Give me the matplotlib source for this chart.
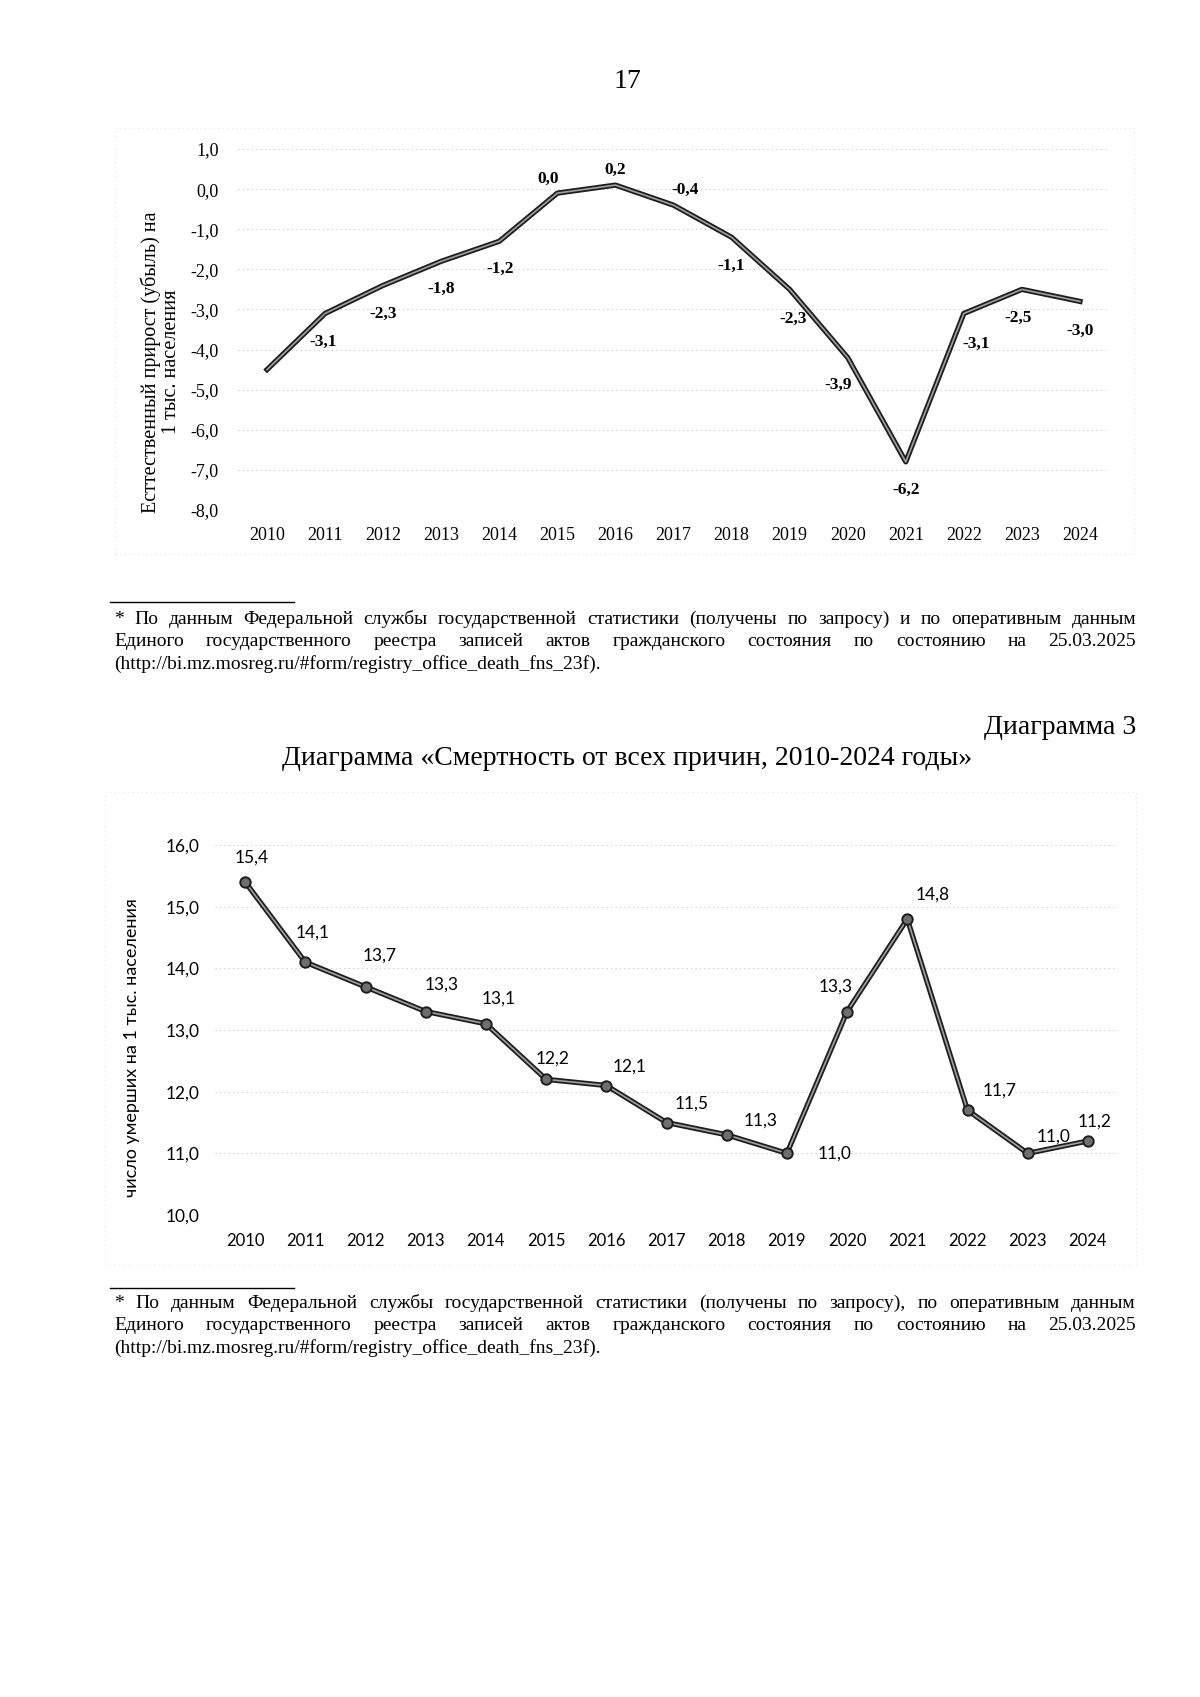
import numpy as np
import matplotlib
matplotlib.use('Agg')
import matplotlib.pyplot as plt
from matplotlib.patches import Rectangle

# ============== data ===================
years = ['2010', '2011', '2012', '2013', '2014', '2015', '2016', '2017',
         '2018', '2019', '2020', '2021', '2022', '2023', '2024']
# natural growth: line as drawn in the source, labels as printed
growth_line = [-4.5, -3.1, -2.4, -1.8, -1.3, -0.1, 0.1, -0.4,
               -1.2, -2.5, -4.2, -6.8, -3.1, -2.5, -2.8]
growth_labels = ['', '-3,1', '-2,3', '-1,8', '-1,2', '0,0', '0,2', '-0,4',
                 '-1,1', '-2,3', '-3,9', '-6,2', '-3,1', '-2,5', '-3,0']
# mortality, per 1000
mortality = [15.4, 14.1, 13.7, 13.3, 13.1, 12.2, 12.1, 11.5,
             11.3, 11.0, 13.3, 14.8, 11.7, 11.0, 11.2]

# label offsets in pixels (dx, dy)
growth_off = [(0, 0), (-2, -28), (0, -28), (0, -28), (1, -28), (-9, 14), (0, 15), (12, 15),
              (0, -29), (3, -29), (-10, -27), (0, -28), (12, -30), (-4, -28), (0, -29)]
mort_off = [(7, 24), (7, 30), (14, 31), (16, 27), (13, 25), (6, 21), (23, 19), (25, 19),
            (34, 14), (48, 0), (-11, 25), (25, 24), (32, 20), (26, 17), (7, 19)]

note1 = ['* По данным Федеральной службы государственной статистики (получены по запросу) и по оперативным данным',
         'Единого государственного реестра записей актов гражданского состояния по состоянию на 25.03.2025',
         '(http://bi.mz.mosreg.ru/#form/registry_office_death_fns_23f).']
note2 = ['* По данным Федеральной службы государственной статистики (получены по запросу), по оперативным данным',
         'Единого государственного реестра записей актов гражданского состояния по состоянию на 25.03.2025',
         '(http://bi.mz.mosreg.ru/#form/registry_office_death_fns_23f).']

SERIF = 'Liberation Serif'
SANS = ['Lato', 'Noto Sans', 'DejaVu Sans']
W, H = 1200, 1697

fig = plt.figure(figsize=(12, 16.97), dpi=100)
fig.patch.set_facecolor('white')


def fx(px):
    return px / W


def fy(py):
    return 1 - py / H


def clean(ax):
    for s in ax.spines.values():
        s.set_visible(False)
    ax.tick_params(length=0)
    ax.grid(axis='y', color='#c4c4c4', linestyle=(0, (1, 3)), linewidth=0.8)
    ax.set_axisbelow(True)


# faint chart borders from the scan
for (x0, y0, x1, y1) in [(115, 128, 1134, 554), (105, 792, 1136, 1265)]:
    fig.patches.append(Rectangle((fx(x0), fy(y1)), fx(x1 - x0), (y1 - y0) / H,
                                 transform=fig.transFigure, fill=False,
                                 edgecolor='#e4e4e4', linestyle=(0, (1, 3)), linewidth=0.8))

# ============== top chart ===================
x = np.arange(len(years))
ax1 = fig.add_axes([fx(238), fy(510), fx(1109 - 238), (510 - 149) / H])
clean(ax1)
ax1.plot(x, growth_line, color='#1e1e1e', linewidth=3.8, zorder=3)
ax1.plot(x, growth_line, color='#a0a0a0', linewidth=1.2, zorder=4)
ax1.set_xlim(-0.5, len(years) - 0.5)
ax1.set_ylim(-8, 1)
yt1 = np.arange(-8, 1.01, 1)
ax1.set_yticks(yt1)
ax1.set_yticklabels([('%.1f' % abs(v) if v == 0 else '%.1f' % v).replace('.', ',') for v in yt1],
                    family=SERIF, fontsize=13)
ax1.set_xticks(x)
ax1.set_xticklabels(years, family=SERIF, fontsize=13)
ax1.tick_params(axis='y', pad=14)
ax1.tick_params(axis='x', pad=12)
fig.text(fx(161), fy(362), 'Есттественный прирост (убыль) на\n1 тыс. населения', rotation=90,
         ha='center', va='center', multialignment='center', family=SERIF,
         fontsize=14.5, linespacing=1.1)
for i, (t, (dx, dy)) in enumerate(zip(growth_labels, growth_off)):
    if t:
        ax1.annotate(t, (x[i], growth_line[i]), xytext=(dx, dy), textcoords='offset pixels',
                     ha='center', va='center', family=SERIF, fontsize=12.5, fontweight='bold')

# ============== bottom chart ===================
ax2 = fig.add_axes([fx(215), fy(1215), fx(1118 - 215), (1215 - 845) / H])
clean(ax2)
ax2.plot(x, mortality, color='#1e1e1e', linewidth=3.8, zorder=3)
ax2.plot(x, mortality, color='#a0a0a0', linewidth=1.2, zorder=4,
         marker='o', markersize=7.5, markerfacecolor='#6e6e6e',
         markeredgecolor='#1e1e1e', markeredgewidth=1.4)
ax2.set_xlim(-0.5, len(years) - 0.5)
ax2.set_ylim(10, 16)
yt2 = np.arange(10, 16.01, 1)
ax2.set_yticks(yt2)
ax2.set_yticklabels([('%.1f' % v).replace('.', ',') for v in yt2], family=SANS, fontsize=12.5)
ax2.set_xticks(x)
ax2.set_xticklabels(years, family=SANS, fontsize=12)
ax2.tick_params(axis='y', pad=11)
ax2.tick_params(axis='x', pad=13)
fig.text(fx(132), fy(1048), 'число умерших на 1 тыс. населения', rotation=90,
         ha='center', va='center', family=SANS, fontsize=13)
for i, (v, (dx, dy)) in enumerate(zip(mortality, mort_off)):
    ax2.annotate(('%.1f' % v).replace('.', ','), (x[i], v), xytext=(dx, dy),
                 textcoords='offset pixels', ha='center', va='center',
                 family=SANS, fontsize=12.5)

# ============== page text ===================
fig.text(fx(627), fy(81), '17', ha='center', va='center', family=SERIF, fontsize=20)
fig.text(fx(1136), fy(727), 'Диаграмма 3', ha='right', va='center', family=SERIF, fontsize=20)
fig.text(fx(627), fy(758), 'Диаграмма «Смертность от всех причин, 2010-2024 годы»',
         ha='center', va='center', family=SERIF, fontsize=20)

renderer = fig.canvas.get_renderer()


def justify(line, ypx, x0, x1):
    words = line.split()
    objs = [fig.text(0, fy(ypx), w, ha='left', va='center', family=SERIF, fontsize=14)
            for w in words]
    widths = [o.get_window_extent(renderer).width for o in objs]
    gap = (x1 - x0 - sum(widths)) / (len(words) - 1)
    xp = x0
    for o, w in zip(objs, widths):
        o.set_x(fx(xp))
        xp += w + gap


def footnote(lines, ysep, y0):
    fig.add_artist(plt.Line2D([fx(110), fx(294)], [fy(ysep), fy(ysep)],
                              transform=fig.transFigure, color='black', linewidth=1.0))
    for k, ln in enumerate(lines):
        ypx = y0 + k * 22.5
        if k < 2:
            justify(ln, ypx, 114, 1136)
        else:
            fig.text(fx(114), fy(ypx), ln, ha='left', va='center', family=SERIF, fontsize=14)


footnote(note1, 602, 619)
footnote(note2, 1288, 1303)

fig.savefig('out.png', dpi=100, facecolor='white')
